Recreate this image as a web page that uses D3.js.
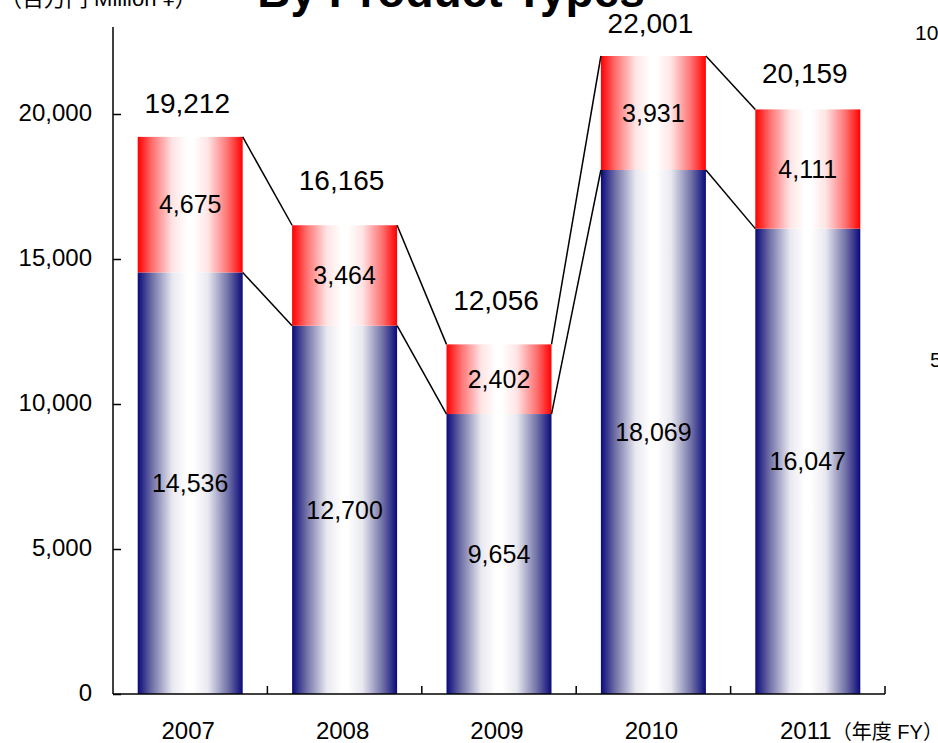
<!DOCTYPE html>
<html>
<head>
<meta charset="utf-8">
<script src="https://cdn.jsdelivr.net/npm/d3@7"></script>
<style>
  html, body { margin: 0; padding: 0; background: #fff; }
  svg { display: block; }
  text { font-family: "Liberation Sans", Arial, "Noto Sans CJK JP", sans-serif; fill: #000; }
</style>
</head>
<body>
<svg id="chart" width="938" height="743"></svg>
<script>
// ---- data ----
const years = ["2007", "2008", "2009", "2010", "2011"];
const lowerValues = [14536, 12700, 9654, 18069, 16047];
const upperValues = [4675, 3464, 2402, 3931, 4111];
const totalValues = [19212, 16165, 12056, 22001, 20159];
const yTickValues = [0, 5000, 10000, 15000, 20000];
const titleText = "By Product Types";
const unitText = "（百万円 Million ¥）";
const xUnitText = "（年度 FY）";
const rightTickLabels = ["100%", "50%"];

// ---- layout ----
const totalLabelGap = [24, 35, 34, 23, 26];
const svg = d3.select("#chart");
const x = d3.scaleBand().domain(years).range([113, 885]).paddingInner(0.32).paddingOuter(0.16);
const y = d3.scaleLinear().domain([0, 23000]).range([694, 27]);
const fmt = d3.format(",");

// gradients
const defs = svg.append("defs");
function grad(id, edge, mid, light) {
  const g = defs.append("linearGradient").attr("id", id).attr("x1", "0%").attr("x2", "100%").attr("y1", "0%").attr("y2", "0%");
  [[0, edge], [0.14, mid], [0.33, light], [0.47, "#ffffff"], [0.53, "#ffffff"], [0.67, light], [0.86, mid], [1, edge]]
    .forEach(([o, c]) => g.append("stop").attr("offset", o).attr("stop-color", c));
}
grad("gBlue", "#0a0a7a", "#7272a8", "#e8e8f0");
grad("gRed", "#ff0000", "#ff7070", "#ffe4e4");

const rows = years.map((yr, i) => ({ yr, lo: lowerValues[i], up: upperValues[i], tot: totalValues[i], i }));

// bars
svg.append("g").selectAll("rect").data(rows).join("rect")
  .attr("x", d => x(d.yr)).attr("width", x.bandwidth())
  .attr("y", d => y(d.lo)).attr("height", d => y(0) - y(d.lo))
  .attr("fill", "url(#gBlue)");
svg.append("g").selectAll("rect").data(rows).join("rect")
  .attr("x", d => x(d.yr)).attr("width", x.bandwidth())
  .attr("y", d => y(d.lo + d.up)).attr("height", d => y(d.lo) - y(d.lo + d.up))
  .attr("fill", "url(#gRed)");

// connector lines
const conn = svg.append("g").attr("stroke", "#000").attr("stroke-width", 1.5).attr("fill", "none");
for (let i = 0; i < rows.length - 1; i++) {
  const a = rows[i], b = rows[i + 1];
  conn.append("line")
    .attr("x1", x(a.yr) + x.bandwidth()).attr("y1", y(a.lo))
    .attr("x2", x(b.yr)).attr("y2", y(b.lo));
  conn.append("line")
    .attr("x1", x(a.yr) + x.bandwidth()).attr("y1", y(a.lo + a.up))
    .attr("x2", x(b.yr)).attr("y2", y(b.lo + b.up));
}

// segment labels
const lbl = svg.append("g").attr("text-anchor", "middle").style("font-size", "25px");
lbl.selectAll("text.lo").data(rows).join("text").attr("class", "lo")
  .attr("x", d => x(d.yr) + x.bandwidth() / 2)
  .attr("y", d => (y(0) + y(d.lo)) / 2).attr("dy", "0.35em")
  .text(d => fmt(d.lo));
lbl.selectAll("text.up").data(rows).join("text").attr("class", "up")
  .attr("x", d => x(d.yr) + x.bandwidth() / 2)
  .attr("y", d => (y(d.lo) + y(d.lo + d.up)) / 2).attr("dy", "0.35em")
  .text(d => fmt(d.up));

// total labels
svg.append("g").attr("text-anchor", "middle").style("font-size", "28px")
  .selectAll("text").data(rows).join("text")
  .attr("x", d => x(d.yr) + x.bandwidth() / 2 - 3)
  .attr("y", d => y(d.tot) - totalLabelGap[d.i])
  .text(d => fmt(d.tot));

// y axis
const yAxis = svg.append("g").attr("transform", "translate(113,0)")
  .call(d3.axisRight(y).tickValues(yTickValues).tickSize(8).tickFormat(""));
yAxis.select(".domain").attr("d", `M0,${y(23000)}V${y(0)}`).attr("stroke", "#000").attr("stroke-width", 1.5);
yAxis.selectAll(".tick line").attr("stroke", "#000").attr("stroke-width", 1.5);
svg.append("g").attr("text-anchor", "end").style("font-size", "24px")
  .selectAll("text").data(yTickValues).join("text")
  .attr("x", 92).attr("y", d => y(d)).attr("dy", "0.3em")
  .text(d => fmt(d));

// x axis
const bounds = years.map(yr => x(yr) - x.step() * x.paddingInner() / 2).concat([885]);
const xg = svg.append("g").attr("stroke", "#000").attr("stroke-width", 1.5);
xg.append("line").attr("x1", 113).attr("x2", 885).attr("y1", y(0)).attr("y2", y(0));
xg.selectAll("line.t").data(bounds.slice(1)).join("line").attr("class", "t")
  .attr("x1", d => d).attr("x2", d => d).attr("y1", y(0)).attr("y2", y(0) - 8);

svg.append("g").attr("text-anchor", "middle").style("font-size", "24px")
  .selectAll("text").data(years).join("text")
  .attr("x", d => x(d) + x.bandwidth() / 2 - 2)
  .attr("y", 739)
  .text(d => d);
svg.append("text")
  .attr("x", x("2011") + x.bandwidth() / 2 + 24).attr("y", 739)
  .style("font-size", "20px")
  .style("font-family", "'Liberation Sans', 'Noto Sans CJK JP', sans-serif")
  .text(xUnitText);

// title (cropped at top)
svg.append("text").attr("x", 451).attr("y", 7).attr("text-anchor", "middle")
  .style("font-size", "46px").style("font-weight", "bold").text(titleText);

// unit label (cropped)
svg.append("text").attr("x", 0).attr("y", 6)
  .style("font-size", "22px")
  .style("font-family", "'Liberation Sans', 'Noto Sans CJK JP', sans-serif")
  .text(unitText);

// right axis labels (cropped)
svg.append("text").attr("x", 915).attr("y", 40).style("font-size", "21px").text(rightTickLabels[0]);
svg.append("text").attr("x", 930).attr("y", 367).style("font-size", "21px").text(rightTickLabels[1]);
</script>
</body>
</html>
